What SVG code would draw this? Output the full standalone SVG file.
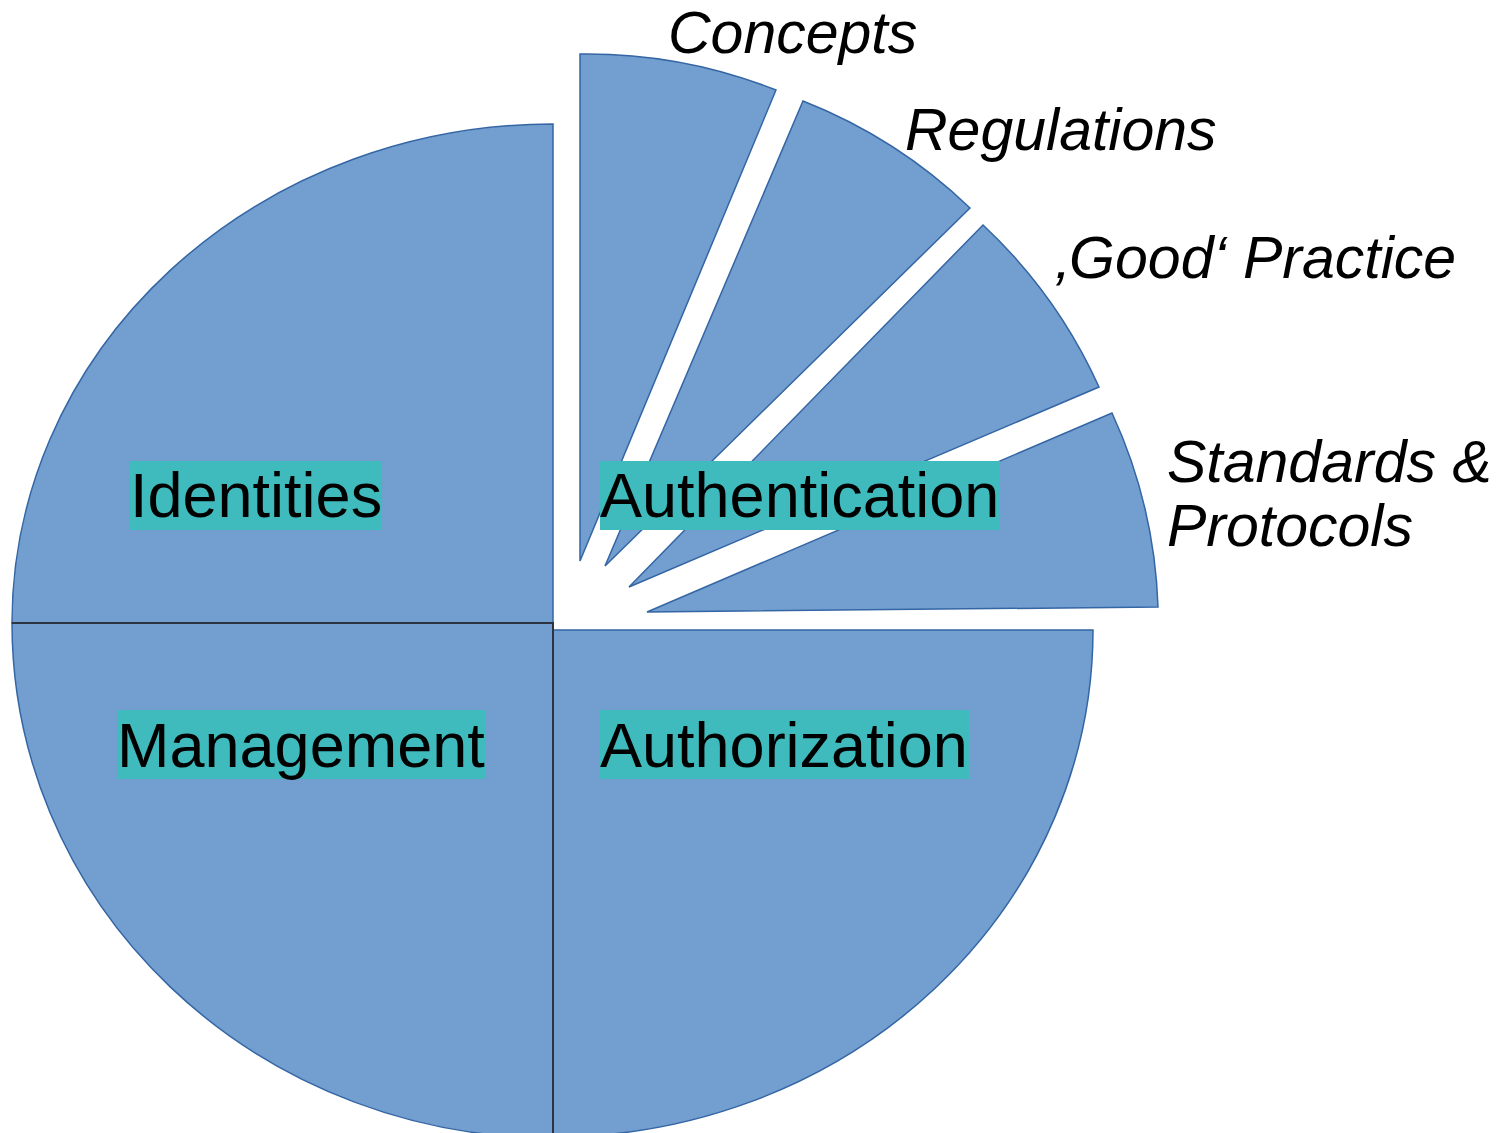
<svg xmlns="http://www.w3.org/2000/svg" width="1503" height="1133" viewBox="0 0 1503 1133">
<style>
.seg{fill:#729fcf;stroke:#3465a4;stroke-width:1.5}
.div{stroke:#2b3440;stroke-width:2;fill:none}
.lbg{fill:#3fbbbe}
.lbl{font-family:"Liberation Sans",Arial,sans-serif;font-size:63px;fill:#000}
.cap{font-family:"Liberation Sans",Arial,sans-serif;font-size:59px;font-style:italic;fill:#000}
</style>
<rect width="1503" height="1133" fill="#fff"/>
<g id="identities">
<path class="seg" d="M553,623 L12,623 A541 499 0 0 1 553,124 Z"/>
</g>
<g id="management">
<path class="seg" d="M553,623 L12,623 A541 515 0 0 0 553,1138 Z"/>
</g>
<g id="authorization">
<path class="seg" d="M553,630 L1093,630 A540 507 0 0 1 553,1137 Z"/>
</g>
<g id="authentication">
<path id="concepts" class="seg" d="M580,561 L580,54 A511 507 0 0 1 776,90 Z"/>
<path id="regulations" class="seg" d="M605,566 L803,101 A511 507 0 0 1 970,208 Z"/>
<path id="goodpractice" class="seg" d="M629,587 L983,225 A511 507 0 0 1 1099,387 Z"/>
<path id="standards" class="seg" d="M647,612 L1112,413 A511 507 0 0 1 1158,607 Z"/>
</g>
<g id="connectors">
<path class="div" d="M12,623 L553,623 L553,1133"/>
</g>
<g id="labels">
<rect class="lbg" x="129" y="461" width="253" height="69"/>
<text class="lbl" x="130" y="517">Identities</text>
<rect class="lbg" x="600" y="461" width="400" height="69"/>
<text class="lbl" x="600" y="517">Authentication</text>
<rect class="lbg" x="117" y="710" width="369" height="69"/>
<text class="lbl" x="117" y="767">Management</text>
<rect class="lbg" x="600" y="710" width="369" height="69"/>
<text class="lbl" x="600" y="767">Authorization</text>
<text class="cap" x="668" y="53">Concepts</text>
<text class="cap" x="905" y="150">Regulations</text>
<text class="cap" x="1056" y="278">‚Good‘ Practice</text>
<text class="cap" x="1167" y="482">Standards &amp;</text>
<text class="cap" x="1167" y="546">Protocols</text>
</g>
</svg>
